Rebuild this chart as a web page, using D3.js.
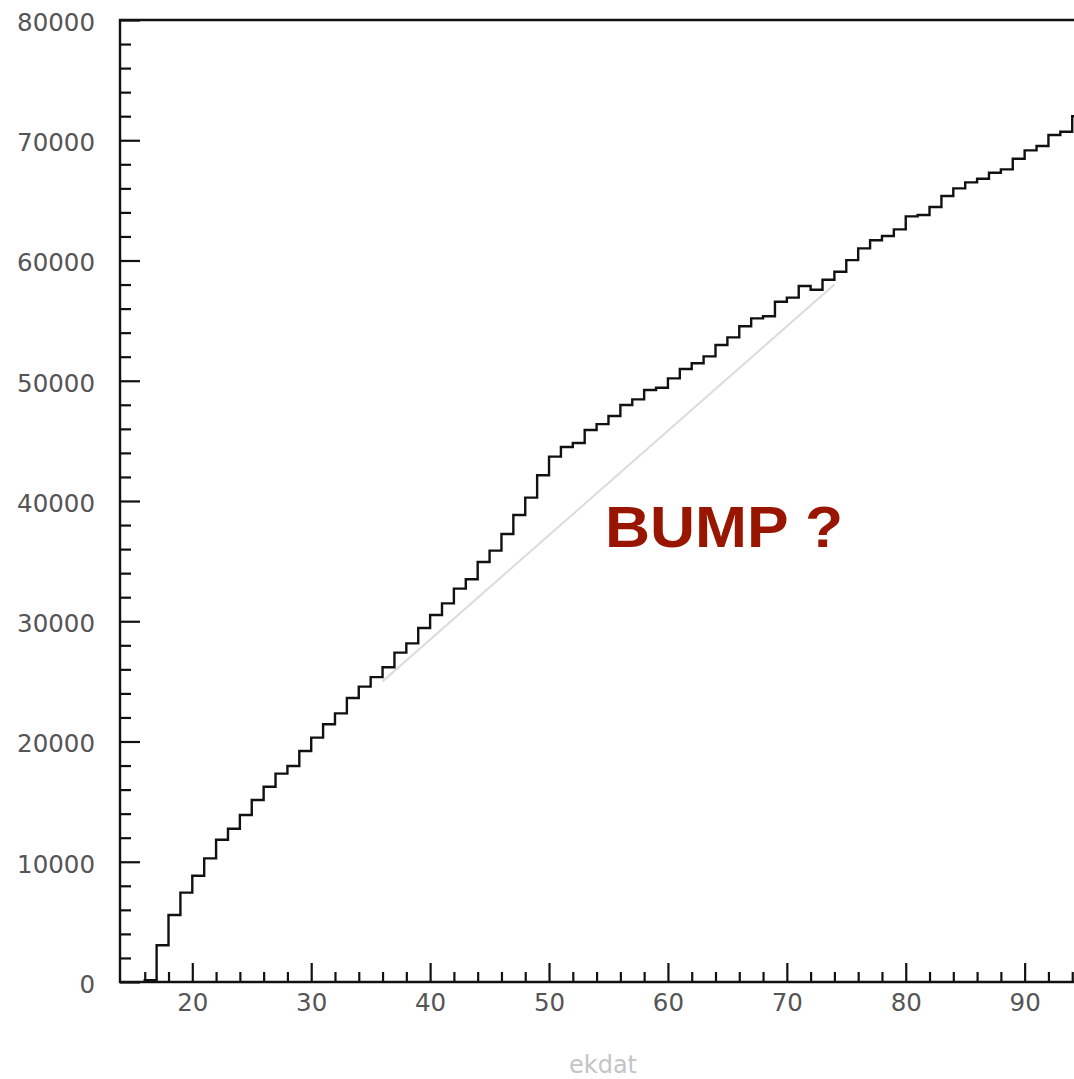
<!DOCTYPE html>
<html>
<head>
<meta charset="utf-8">
<script src="https://cdn.jsdelivr.net/npm/d3@7"></script>
<style>
  body { margin: 0; background: #fff; }
  svg { display: block; }
  .tick text { font-family: "DejaVu Sans", sans-serif; fill: #555; }
</style>
</head>
<body>
<div id="chart"></div>
<script>
// histogram of ekdat, one unit wide bins starting at 16
let binStart = 16;
let counts = [
    150, 3050, 5570, 7430, 8840, 10280, 11830, 12750, 13890, 15140,
    16240, 17330, 17960, 19210, 20320, 21430, 22340, 23620, 24560, 25350,
    26170, 27390, 28160, 29440, 30520, 31490, 32710, 33490, 34930, 35870,
    37260, 38840, 40280, 42140, 43690, 44490, 44820, 45900, 46390, 47070,
    47980, 48450, 49230, 49420, 50200, 50980, 51450, 52030, 52970, 53610,
    54530, 55190, 55360, 56570, 56910, 57880, 57570, 58400, 59070, 60030,
    61010, 61680, 62040, 62590, 63670, 63780, 64450, 65360, 66000, 66500,
    66800, 67300, 67580, 68460, 69160, 69520, 70440, 70710, 72000
];
let xMajor = [20, 30, 40, 50, 60, 70, 80, 90];
let yMajor = [0, 10000, 20000, 30000, 40000, 50000, 60000, 70000, 80000];
// the grey guide line drawn under the bump
let guideX = [36, 74];
let guideY = [25000, 58000];
let note = "BUMP ?";
let xTitle = "ekdat";

var width = 1074, height = 1079;
var plotLeft = 120, plotTop = 20, plotBottom = 982;

var svg = d3.select("#chart").append("svg")
    .attr("width", width).attr("height", height);

var x = d3.scaleLinear().domain([13.92, 94.15]).range([plotLeft, width]);
var y = d3.scaleLinear().domain([0, 80000]).range([plotBottom, plotTop]);

svg.append("clipPath").attr("id", "plotClip")
    .append("rect")
    .attr("x", plotLeft).attr("y", 0)
    .attr("width", width - plotLeft).attr("height", plotBottom + 2);

// minor ticks
let xMinor = d3.range(16, 95, 2).filter(d => d % 10 != 0);
let yMinor = d3.range(0, 80001, 2000).filter(d => d % 10000 != 0);

svg.append("g")
    .attr("transform", "translate(0," + plotBottom + ")")
    .call(d3.axisBottom(x).tickValues(xMinor).tickSize(-10).tickFormat(""))
    .call(g => g.select(".domain").remove())
    .selectAll("line").attr("stroke", "#111").attr("stroke-width", 2.2);

svg.append("g")
    .attr("transform", "translate(" + plotLeft + ",0)")
    .call(d3.axisLeft(y).tickValues(yMinor).tickSize(-11).tickFormat(""))
    .call(g => g.select(".domain").remove())
    .selectAll("line").attr("stroke", "#111").attr("stroke-width", 2.2);

// major ticks with labels
var xAxis = svg.append("g")
    .attr("transform", "translate(0," + plotBottom + ")")
    .call(d3.axisBottom(x).tickValues(xMajor).tickSizeInner(-19).tickSizeOuter(0));
xAxis.select(".domain").remove();
xAxis.selectAll("line").attr("stroke", "#111").attr("stroke-width", 2.2);
xAxis.selectAll("text").attr("font-size", 24.5).attr("y", 29).attr("dy", 0);

var yAxis = svg.append("g")
    .attr("transform", "translate(" + plotLeft + ",0)")
    .call(d3.axisLeft(y).tickValues(yMajor).tickSizeInner(-20).tickSizeOuter(0).tickFormat(d3.format("d")));
yAxis.select(".domain").remove();
yAxis.selectAll("line").attr("stroke", "#111").attr("stroke-width", 2.2);
yAxis.selectAll("text").attr("font-size", 24.5).attr("x", -25).attr("dy", "0.42em");

// frame: left, bottom, top
svg.append("line").attr("x1", plotLeft).attr("x2", plotLeft).attr("y1", plotTop - 1).attr("y2", plotBottom + 1)
    .attr("stroke", "#111").attr("stroke-width", 2.4);
svg.append("line").attr("x1", plotLeft - 1).attr("x2", width).attr("y1", plotBottom).attr("y2", plotBottom)
    .attr("stroke", "#111").attr("stroke-width", 2.4);
svg.append("line").attr("x1", plotLeft - 1).attr("x2", width).attr("y1", plotTop).attr("y2", plotTop)
    .attr("stroke", "#111").attr("stroke-width", 2.4);

// guide line
svg.append("line")
    .attr("x1", x(guideX[0])).attr("y1", y(guideY[0]))
    .attr("x2", x(guideX[1])).attr("y2", y(guideY[1]))
    .attr("stroke", "#dcdcdc").attr("stroke-width", 2);

// step histogram
let pts = [{x: binStart, y: 0}];
counts.forEach(function(c, i){
    pts.push({x: binStart + i, y: c});
});
pts.push({x: binStart + counts.length, y: counts[counts.length - 1]});

var line = d3.line().x(d => x(d.x)).y(d => y(d.y)).curve(d3.curveStepAfter);

svg.append("path")
    .datum(pts)
    .attr("clip-path", "url(#plotClip)")
    .attr("d", line)
    .attr("fill", "none")
    .attr("stroke", "#111")
    .attr("stroke-width", 2.4);

// annotation
svg.append("text")
    .attr("x", 605).attr("y", 547)
    .attr("font-family", "Liberation Sans, Arial, sans-serif")
    .attr("font-weight", "bold")
    .attr("font-size", 57)
    .attr("fill", "#981500")
    .attr("textLength", 238)
    .attr("lengthAdjust", "spacingAndGlyphs")
    .text(note);

// axis title
svg.append("text")
    .attr("x", 603).attr("y", 1073)
    .attr("text-anchor", "middle")
    .attr("font-family", "DejaVu Sans, sans-serif")
    .attr("font-size", 24)
    .attr("fill", "#c4c4c4")
    .text(xTitle);
</script>
</body>
</html>
